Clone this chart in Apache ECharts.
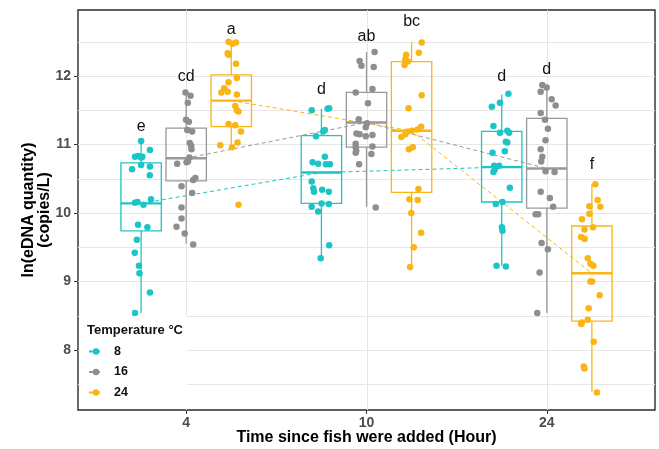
<!DOCTYPE html>
<html><head><meta charset="utf-8">
<script src="https://cdn.jsdelivr.net/npm/echarts@6/dist/echarts.min.js"></script>
<style>html,body{margin:0;padding:0;background:#fff}#c{width:659px;height:449px}</style>
</head><body><div id="c"></div>
<script>
// ---------- data ----------
const times = ['4', '10', '24'];
const temps = ['8', '16', '24'];
const yTicks = [8, 9, 10, 11, 12];
const yGrid = [7.5, 8, 8.5, 9, 9.5, 10, 10.5, 11, 11.5, 12, 12.5];
// box stats per temperature, per time: [lowerWhisker, Q1, median, Q3, upperWhisker]
const box8  = [[8.54, 9.74, 10.14, 10.73, 11.04], [9.34, 10.14, 10.59, 11.13, 11.52], [9.23, 10.16, 10.67, 11.19, 11.73]];
const box16 = [[9.55, 10.47, 10.80, 11.24, 11.77], [10.09, 10.96, 11.32, 11.76, 12.35], [8.54, 10.07, 10.65, 11.38, 11.87]];
const box24 = [[10.94, 11.26, 11.64, 12.015, 12.50], [9.21, 10.30, 11.20, 12.21, 12.49], [7.39, 8.42, 9.12, 9.81, 10.42]];
// significance letters per temperature, per time, and their heights
const letters8 = ['e', 'd', 'd'];
const letters16 = ['cd', 'ab', 'd'];
const letters24 = ['a', 'bc', 'f'];
const letterY8 = [11.26, 11.80, 11.99];
const letterY16 = [11.99, 12.57, 12.09];
const letterY24 = [12.67, 12.79, 10.70];
// jittered observations: [jitter (category units), ln value]
const pts8_4 = [[0.0,11.05],[0.049,10.92],[-0.034,10.82],[-0.017,10.83],[0.0,10.81],[0.007,10.82],[-0.05,10.64],[0.0,10.70],[0.049,10.68],[0.048,10.55],[-0.034,10.15],[-0.02,10.16],[0.013,10.12],[0.055,10.20],[-0.017,9.83],[0.035,9.79],[-0.024,9.61],[-0.035,9.42],[-0.012,9.23],[-0.009,9.12],[0.049,8.84],[-0.034,8.54]];
const pts8_10 = [[-0.054,11.50],[0.034,11.52],[0.043,11.53],[0.019,11.21],[0.01,11.19],[-0.03,11.12],[0.019,10.82],[-0.049,10.74],[-0.018,10.72],[0.025,10.71],[0.047,10.71],[-0.054,10.46],[-0.045,10.36],[-0.041,10.31],[0.004,10.34],[0.041,10.31],[-0.054,10.09],[0.001,10.14],[0.041,10.13],[-0.018,10.02],[0.043,9.53],[-0.004,9.34]];
const pts8_24 = [[0.037,11.74],[-0.01,11.61],[-0.055,11.55],[-0.046,11.27],[-0.01,11.17],[0.031,11.20],[0.041,11.17],[0.023,11.04],[0.031,11.03],[-0.051,10.88],[0.017,10.90],[-0.042,10.69],[-0.014,10.69],[-0.046,10.60],[-0.038,10.64],[0.045,10.37],[-0.033,10.13],[0.004,10.16],[0.001,9.79],[0.004,9.74],[-0.029,9.23],[0.023,9.22]];
const pts16_4 = [[-0.004,11.76],[0.024,11.71],[0.009,11.61],[-0.001,11.36],[0.015,11.33],[0.006,11.21],[0.033,11.19],[0.02,11.02],[0.028,10.98],[0.029,10.93],[0.018,10.81],[0.01,10.75],[-0.05,10.72],[0.002,10.74],[0.051,10.51],[0.039,10.48],[-0.026,10.39],[0.033,10.29],[-0.026,10.08],[-0.026,9.92],[-0.054,9.80],[-0.008,9.70],[0.039,9.54]];
const pts16_10 = [[0.045,12.35],[-0.038,12.22],[-0.028,12.15],[0.04,12.13],[-0.06,11.76],[0.033,11.81],[0.008,11.60],[-0.043,11.37],[0.003,11.31],[-0.004,11.25],[-0.056,11.16],[-0.038,11.15],[-0.004,11.12],[0.033,11.14],[-0.06,11.01],[-0.06,10.96],[-0.057,10.91],[-0.06,10.88],[0.033,10.97],[0.027,10.86],[-0.041,10.71],[0.051,10.08]];
const pts16_24 = [[-0.025,11.87],[-0.001,11.83],[-0.034,11.77],[0.027,11.66],[0.049,11.57],[-0.034,11.46],[-0.01,11.36],[0.006,11.23],[-0.007,11.06],[-0.034,10.93],[-0.025,10.82],[-0.031,10.75],[-0.007,10.61],[0.043,10.60],[-0.034,10.31],[0.017,10.22],[0.035,10.09],[-0.062,9.98],[-0.048,9.98],[-0.029,9.56],[0.006,9.47],[-0.04,9.13],[-0.053,8.54]];
const pts24_4 = [[-0.015,12.50],[0.007,12.47],[0.026,12.49],[-0.02,12.33],[-0.015,12.31],[0.026,12.18],[0.031,11.97],[-0.015,11.91],[-0.039,11.82],[-0.02,11.77],[-0.055,11.76],[0.031,11.73],[0.022,11.56],[0.031,11.50],[0.04,11.48],[-0.015,11.30],[0.022,11.28],[0.054,11.19],[0.035,11.03],[-0.061,10.99],[0.004,10.96],[0.04,10.12]];
const pts24_10 = [[0.056,12.49],[-0.03,12.31],[-0.035,12.24],[0.04,12.34],[-0.021,12.21],[-0.039,12.16],[0.056,11.72],[-0.017,11.53],[0.053,11.26],[0.034,11.22],[0.003,11.20],[-0.021,11.19],[-0.035,11.15],[-0.057,11.11],[0.007,10.96],[-0.015,10.93],[0.038,10.35],[-0.012,10.20],[0.034,10.19],[-0.002,10.00],[0.053,9.71],[0.012,9.50],[-0.008,9.21]];
const pts24_24 = [[0.019,10.42],[0.032,10.19],[0.047,10.09],[-0.014,10.10],[-0.014,9.99],[-0.055,9.91],[0.006,9.79],[-0.041,9.76],[-0.06,9.65],[-0.04,9.62],[-0.023,9.34],[-0.008,9.26],[0.008,9.23],[-0.008,9.00],[0.001,9.00],[0.043,8.80],[-0.018,8.61],[-0.023,8.44],[-0.06,8.38],[-0.055,8.40],[0.01,8.12],[-0.045,7.76],[-0.041,7.73],[0.028,7.38]];

// ---------- styling / layout ----------
const colors = ['#1CC5C5', '#999999', '#FAB416'];
const pointColors = ['#1CC5C5', '#8E8E8E', '#FAB416'];
const dodge = [-0.25, 0, 0.25];
const boxW = 0.224;
const FONT = "'Liberation Sans', Arial, sans-serif";
const GRID_COLOR = '#E6E6E6';

const boxes = [box8, box16, box24];
const lettersAll = [letters8, letters16, letters24];
const letterYAll = [letterY8, letterY16, letterY24];
const ptsAll = [[pts8_4, pts8_10, pts8_24], [pts16_4, pts16_10, pts16_24], [pts24_4, pts24_10, pts24_24]];

const series = [];

// gridlines (drawn through the axes' scales)
series.push({
  type: 'custom', name: 'gridY', z: 2, silent: true, clip: false,
  data: yGrid.map(v => [2, v]),
  encode: {x: 0, y: 1},
  renderItem(params, api) {
    const cs = params.coordSys;
    const y = Math.round(api.coord([2, api.value(1)])[1]) + 0.5;
    return {type: 'group', children: [
      {type: 'line', shape: {x1: cs.x, y1: y, x2: cs.x + cs.width, y2: y}, style: {stroke: GRID_COLOR, lineWidth: 1}}
    ]};
  }
});
series.push({
  type: 'custom', name: 'gridX', z: 2, silent: true, clip: false,
  data: times.map((t, i) => [i + 1, 10]),
  encode: {x: 0, y: 1},
  renderItem(params, api) {
    const cs = params.coordSys;
    const x = Math.round(api.coord([api.value(0), 10])[0]) + 0.5;
    return {type: 'group', children: [
      {type: 'line', shape: {x1: x, y1: cs.y, x2: x, y2: cs.y + cs.height}, style: {stroke: GRID_COLOR, lineWidth: 1}}
    ]};
  }
});

temps.forEach((t, k) => {
  const c = colors[k];
  // median connecting dashed lines
  series.push({
    type: 'line', name: t, z: 3,
    data: boxes[k].map((b, i) => [i + 1 + dodge[k], b[2]]),
    symbol: 'circle', symbolSize: 5, showSymbol: false,
    itemStyle: {color: pointColors[k]},
    lineStyle: {color: c, width: 1, type: [4, 3]},
    silent: true, animation: false
  });
  // boxes
  series.push({
    type: 'custom', name: 'box' + t, z: 4, silent: true,
    data: boxes[k].map((b, i) => [i + 1 + dodge[k], b[0], b[1], b[2], b[3], b[4]]),
    encode: {x: 0, y: [1, 5]},
    renderItem(params, api) {
      const x = api.value(0);
      const lo = api.coord([x, api.value(1)]);
      const q1 = api.coord([x, api.value(2)]);
      const md = api.coord([x, api.value(3)]);
      const q3 = api.coord([x, api.value(4)]);
      const hi = api.coord([x, api.value(5)]);
      const half = api.size([boxW, 0])[0] / 2;
      return {type: 'group', children: [
        {type: 'line', shape: {x1: lo[0], y1: lo[1], x2: q1[0], y2: q1[1]}, style: {stroke: c, lineWidth: 1.3}},
        {type: 'line', shape: {x1: q3[0], y1: q3[1], x2: hi[0], y2: hi[1]}, style: {stroke: c, lineWidth: 1.3}},
        {type: 'rect', shape: {x: q3[0] - half, y: q3[1], width: half * 2, height: q1[1] - q3[1]}, style: {fill: 'none', stroke: c, lineWidth: 1.3}},
        {type: 'line', shape: {x1: md[0] - half, y1: md[1], x2: md[0] + half, y2: md[1]}, style: {stroke: c, lineWidth: 2.4}}
      ]};
    }
  });
  // jittered points
  const pdata = [];
  ptsAll[k].forEach((arr, i) => arr.forEach(p => pdata.push([i + 1 + dodge[k] + p[0], p[1]])));
  series.push({
    type: 'scatter', name: 'pts' + t, z: 5, silent: true,
    data: pdata, symbol: 'circle', symbolSize: 6.5,
    itemStyle: {color: pointColors[k], opacity: 1}
  });
  // letters
  series.push({
    type: 'custom', name: 'let' + t, z: 6, silent: true, clip: false,
    data: lettersAll[k].map((L, i) => [i + 1 + dodge[k], letterYAll[k][i]]),
    encode: {x: 0, y: 1},
    renderItem(params, api) {
      const p = api.coord([api.value(0), api.value(1)]);
      return {type: 'text', x: p[0], y: p[1], style: {text: lettersAll[k][params.dataIndex], fill: '#111', font: '16px ' + FONT, align: 'center', verticalAlign: 'middle'}};
    }
  });
});

const chart = echarts.init(document.getElementById('c'), null, {renderer: 'canvas'});
chart.setOption({
  animation: false,
  backgroundColor: '#fff',
  grid: {left: 78, right: 4, top: 10, bottom: 39, show: true, borderColor: '#2b2b2b', borderWidth: 1.4,
         backgroundColor: 'transparent', containLabel: false, outerBoundsMode: 'none'},
  xAxis: {
    type: 'value', min: 0.4, max: 3.6,
    axisLine: {show: false},
    axisTick: {show: true, customValues: [1, 2, 3], length: 4, lineStyle: {color: '#333', width: 1}},
    axisLabel: {customValues: [1, 2, 3], formatter: v => times[Math.round(v) - 1], fontFamily: FONT, fontWeight: 'bold', fontSize: 14, color: '#4D4D4D', margin: 6},
    splitLine: {show: false},
    name: 'Time since fish were added (Hour)', nameLocation: 'middle', nameGap: 20, nameMoveOverlap: false,
    nameTextStyle: {fontFamily: FONT, fontWeight: 'bold', fontSize: 16, color: '#000'}
  },
  yAxis: {
    type: 'value', min: 7.124, max: 12.963,
    axisLine: {show: false},
    axisTick: {show: true, customValues: yTicks, length: 4, lineStyle: {color: '#333', width: 1}},
    axisLabel: {customValues: yTicks, formatter: v => String(Math.round(v)), fontFamily: FONT, fontWeight: 'bold', fontSize: 14, color: '#4D4D4D', margin: 7},
    splitLine: {show: false},
    name: 'ln(eDNA quantity)\n(copies/L)', nameLocation: 'middle', nameGap: 25, nameMoveOverlap: false,
    nameTextStyle: {fontFamily: FONT, fontWeight: 'bold', fontSize: 16, color: '#000', lineHeight: 16}
  },
  legend: {
    data: temps, orient: 'vertical', left: 88, top: 344, padding: 0,
    itemWidth: 14, itemHeight: 8, itemGap: 5.5, selectedMode: false,
    textStyle: {fontFamily: FONT, fontWeight: 'bold', fontSize: 12.5, color: '#111', lineHeight: 15, padding: [0, 0, 0, 6]},
    z: 10
  },
  graphic: [
    {type: 'rect', left: 80, top: 316, z: 8, shape: {width: 107, height: 92}, style: {fill: '#fff'}},
    {type: 'text', left: 87, top: 324, z: 9, style: {text: 'Temperature °C', font: 'bold 13px ' + FONT, fill: '#111'}}
  ],
  series: series
});
</script></body></html>
